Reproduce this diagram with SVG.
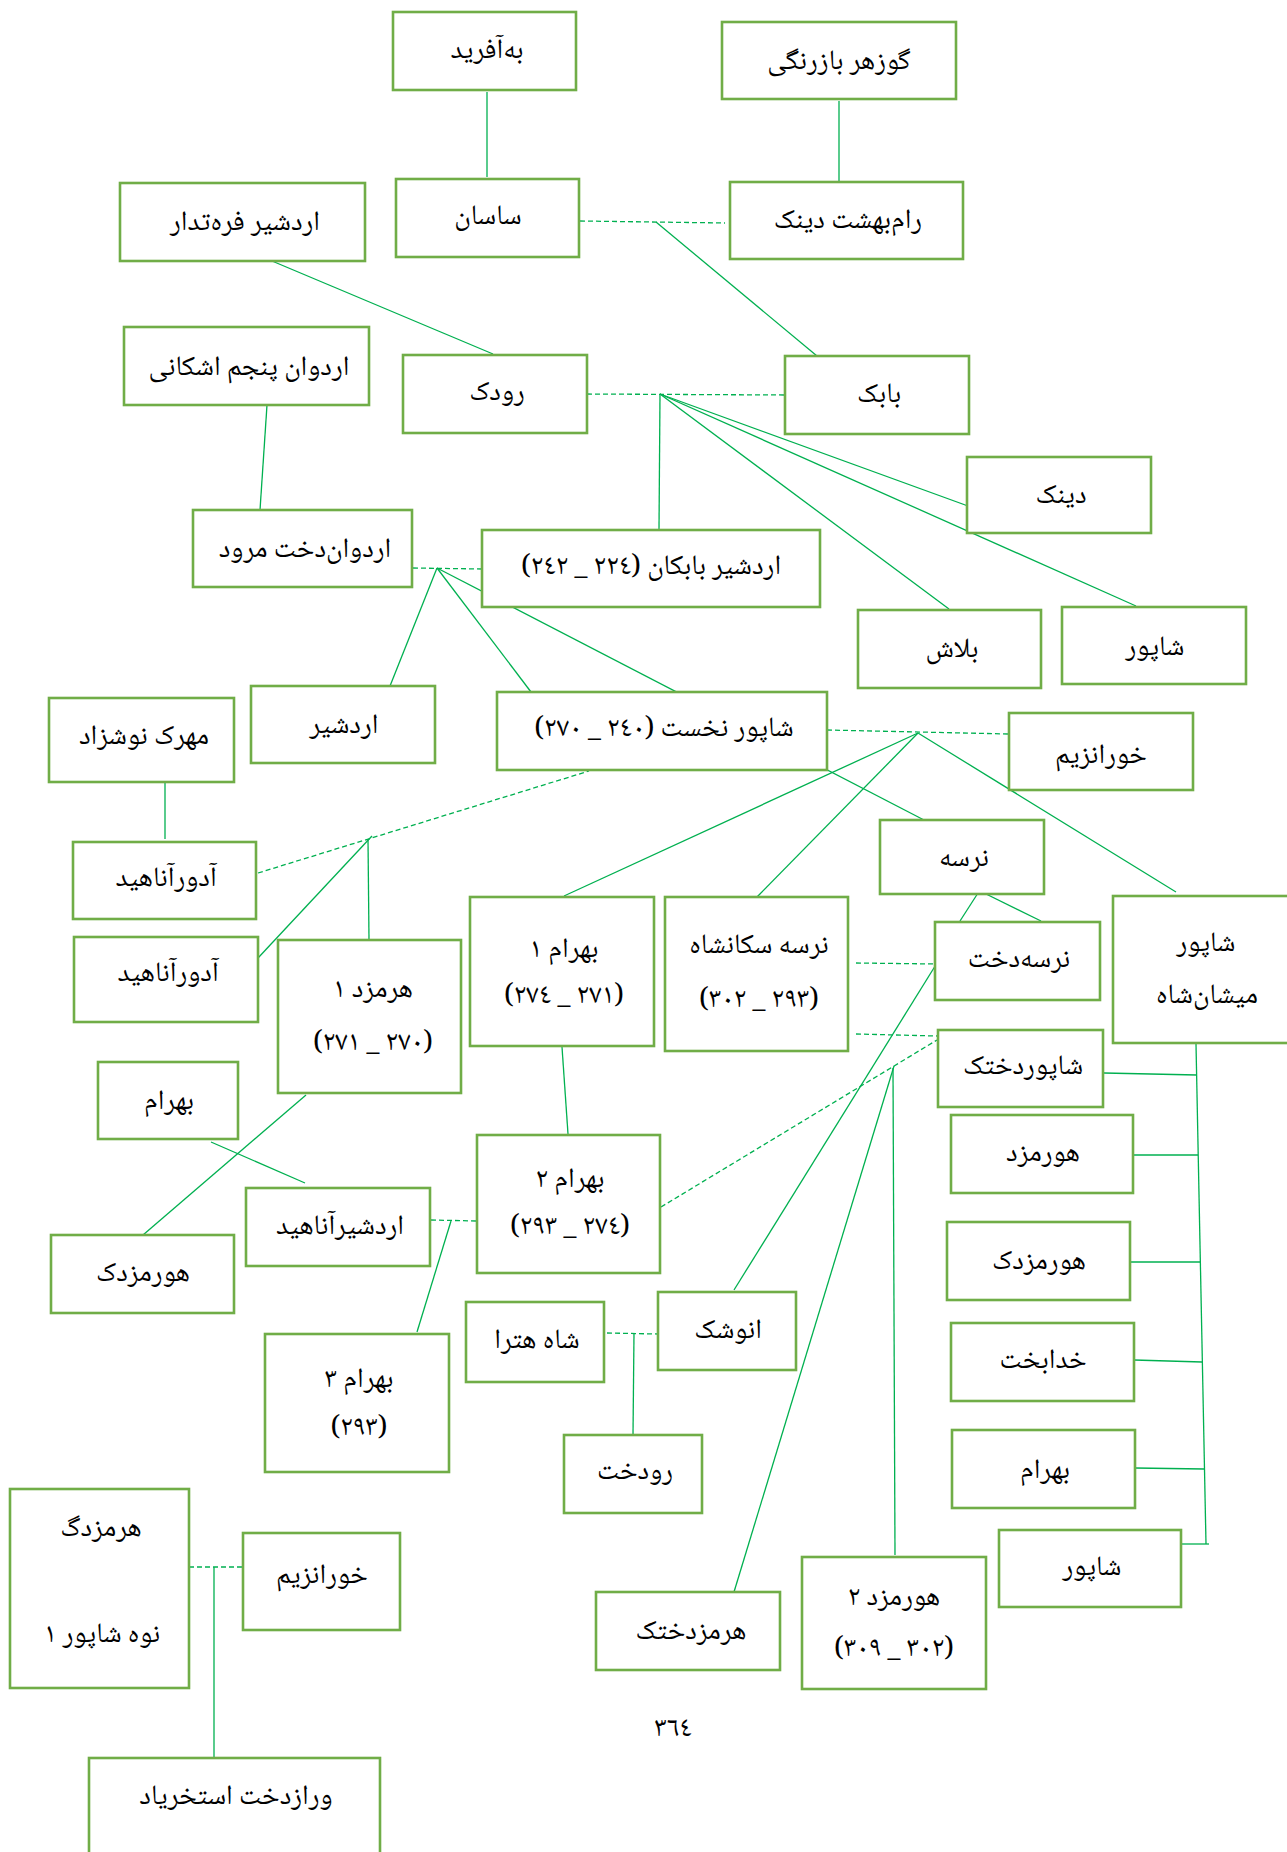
<svg xmlns="http://www.w3.org/2000/svg" width="1287" height="1852" viewBox="0 0 1287 1852">
<style>
.b{fill:#fff;stroke:#70AD47;stroke-width:2.6}
.t{font-family:"Noto Naskh Arabic","Noto Serif Arabic","DejaVu Sans",sans-serif;font-size:28px;fill:#000;text-anchor:middle;direction:rtl;unicode-bidi:embed}
.c line{stroke:#00B050;stroke-width:1.3;fill:none}
.c .d{stroke-dasharray:5 3}
</style>
<rect width="1287" height="1852" fill="#fff"/>
<g class="c" id="connectors">
<line x1="487" y1="92" x2="487" y2="177"/>
<line x1="839" y1="101" x2="839" y2="183"/>
<line x1="272" y1="261" x2="493" y2="354"/>
<line x1="656" y1="222" x2="817" y2="356"/>
<line x1="267" y1="405" x2="260" y2="510"/>
<line x1="660" y1="394" x2="659" y2="529"/>
<line x1="660" y1="394" x2="968" y2="506"/>
<line x1="660" y1="394" x2="1136" y2="606"/>
<line x1="660" y1="394" x2="949" y2="609"/>
<line x1="437" y1="568" x2="390" y2="686"/>
<line x1="437" y1="568" x2="531" y2="692"/>
<line x1="437" y1="568" x2="924" y2="820"/>
<line x1="918" y1="733" x2="564" y2="896"/>
<line x1="918" y1="733" x2="757" y2="897"/>
<line x1="918" y1="733" x2="1176" y2="892"/>
<line x1="978" y1="893" x2="960" y2="921"/>
<line x1="980" y1="891" x2="1041" y2="921"/>
<line x1="368" y1="839" x2="369" y2="940"/>
<line x1="372" y1="836" x2="258" y2="958"/>
<line x1="165" y1="782" x2="165" y2="839"/>
<line x1="306" y1="1095" x2="143" y2="1235"/>
<line x1="211" y1="1142" x2="305" y2="1183"/>
<line x1="562" y1="1047" x2="568" y2="1134"/>
<line x1="451" y1="1221" x2="417" y2="1332"/>
<line x1="937" y1="963" x2="734" y2="1290"/>
<line x1="894" y1="1066" x2="734" y2="1592"/>
<line x1="893" y1="1068" x2="895" y2="1555"/>
<line x1="634" y1="1333" x2="633" y2="1435"/>
<line x1="214" y1="1567" x2="214" y2="1768"/>
<line x1="1196" y1="1044" x2="1206" y2="1544"/>
<line x1="1104" y1="1073" x2="1197" y2="1075"/>
<line x1="1133" y1="1155" x2="1198" y2="1155"/>
<line x1="1130" y1="1262" x2="1200" y2="1262"/>
<line x1="1134" y1="1360" x2="1202" y2="1362"/>
<line x1="1135" y1="1468" x2="1204" y2="1469"/>
<line x1="1182" y1="1544" x2="1209" y2="1544"/>
<line class="d" x1="580" y1="221" x2="725" y2="223"/>
<line class="d" x1="587" y1="394" x2="785" y2="395"/>
<line class="d" x1="413" y1="568" x2="482" y2="569"/>
<line class="d" x1="827" y1="730" x2="1009" y2="734"/>
<line class="d" x1="258" y1="873" x2="589" y2="771"/>
<line class="d" x1="856" y1="963" x2="935" y2="964"/>
<line class="d" x1="856" y1="1034" x2="937" y2="1036"/>
<line class="d" x1="661" y1="1207" x2="937" y2="1040"/>
<line class="d" x1="431" y1="1220" x2="477" y2="1221"/>
<line class="d" x1="607" y1="1333" x2="658" y2="1334"/>
<line class="d" x1="189" y1="1567" x2="243" y2="1567"/>
</g>
<g id="n1"><rect class="b" x="393" y="12" width="183" height="78"/><text class="t" x="487" y="58">به‌آفرید</text></g>
<g id="n2"><rect class="b" x="722" y="22" width="234" height="77"/><text class="t" x="839" y="69">گوزهر بازرنگی</text></g>
<g id="n3"><rect class="b" x="396" y="179" width="183" height="78"/><text class="t" x="488" y="224">ساسان</text></g>
<g id="n4"><rect class="b" x="730" y="182" width="233" height="77"/><text class="t" x="848" y="228">رام‌بهشت دینک</text></g>
<g id="n5"><rect class="b" x="120" y="183" width="245" height="78"/><text class="t" x="245" y="230">اردشیر فره‌تدار</text></g>
<g id="n6"><rect class="b" x="124" y="327" width="245" height="78"/><text class="t" x="249" y="375">اردوان پنجم اشکانی</text></g>
<g id="n7"><rect class="b" x="403" y="355" width="184" height="78"/><text class="t" x="497" y="400">رودک</text></g>
<g id="n8"><rect class="b" x="785" y="356" width="184" height="78"/><text class="t" x="879" y="402">بابک</text></g>
<g id="n9"><rect class="b" x="967" y="457" width="184" height="76"/><text class="t" x="1061" y="503">دینک</text></g>
<g id="n10"><rect class="b" x="193" y="510" width="219" height="77"/><text class="t" x="305" y="557">اردوان‌دخت مرود</text></g>
<g id="n11"><rect class="b" x="482" y="530" width="338" height="77"/><text class="t" x="651" y="574">اردشیر بابکان (٢٢٤ _ ٢٤٢)</text></g>
<g id="n12"><rect class="b" x="858" y="610" width="183" height="78"/><text class="t" x="952" y="657">بلاش</text></g>
<g id="n13"><rect class="b" x="1062" y="607" width="184" height="77"/><text class="t" x="1155" y="655">شاپور</text></g>
<g id="n14"><rect class="b" x="251" y="686" width="184" height="77"/><text class="t" x="344" y="733">اردشیر</text></g>
<g id="n15"><rect class="b" x="497" y="692" width="330" height="78"/><text class="t" x="664" y="736">شاپور نخست (٢٤٠ _ ٢٧٠)</text></g>
<g id="n16"><rect class="b" x="49" y="698" width="185" height="84"/><text class="t" x="144" y="744">مهرک نوشزاد</text></g>
<g id="n17"><rect class="b" x="1009" y="713" width="184" height="77"/><text class="t" x="1101" y="763">خورانزیم</text></g>
<g id="n18"><rect class="b" x="880" y="820" width="164" height="74"/><text class="t" x="964" y="866">نرسه</text></g>
<g id="n19"><rect class="b" x="73" y="842" width="183" height="77"/><text class="t" x="166" y="886">آدورآناهید</text></g>
<g id="n20"><rect class="b" x="470" y="897" width="184" height="149"/><text class="t" x="564" y="957">بهرام ١</text><text class="t" x="564" y="1003">(٢٧١ _ ٢٧٤)</text></g>
<g id="n21"><rect class="b" x="665" y="897" width="183" height="154"/><text class="t" x="759" y="953">نرسه سکانشاه</text><text class="t" x="759" y="1007">(٢٩٣ _ ٣٠٢)</text></g>
<g id="n22"><rect class="b" x="1113" y="896" width="185" height="147"/><text class="t" x="1206" y="951">شاپور</text><text class="t" x="1207" y="1003">میشان‌شاه</text></g>
<g id="n23"><rect class="b" x="935" y="922" width="165" height="78"/><text class="t" x="1019" y="967">نرسه‌دخت</text></g>
<g id="n24"><rect class="b" x="74" y="937" width="184" height="85"/><text class="t" x="168" y="981">آدورآناهید</text></g>
<g id="n25"><rect class="b" x="278" y="940" width="183" height="153"/><text class="t" x="373" y="997">هرمزد ١</text><text class="t" x="373" y="1050">(٢٧٠ _ ٢٧١)</text></g>
<g id="n26"><rect class="b" x="938" y="1030" width="165" height="77"/><text class="t" x="1023" y="1074">شاپوردختک</text></g>
<g id="n27"><rect class="b" x="98" y="1062" width="140" height="77"/><text class="t" x="169" y="1109">بهرام</text></g>
<g id="n28"><rect class="b" x="951" y="1115" width="182" height="78"/><text class="t" x="1043" y="1161">هورمزد</text></g>
<g id="n29"><rect class="b" x="477" y="1135" width="183" height="138"/><text class="t" x="570" y="1187">بهرام ٢</text><text class="t" x="570" y="1234">(٢٧٤ _ ٢٩٣)</text></g>
<g id="n30"><rect class="b" x="246" y="1188" width="184" height="78"/><text class="t" x="340" y="1234">اردشیرآناهید</text></g>
<g id="n31"><rect class="b" x="947" y="1222" width="183" height="78"/><text class="t" x="1039" y="1269">هورمزدک</text></g>
<g id="n32"><rect class="b" x="51" y="1235" width="183" height="78"/><text class="t" x="143" y="1281">هورمزدک</text></g>
<g id="n33"><rect class="b" x="658" y="1292" width="138" height="78"/><text class="t" x="728" y="1338">انوشک</text></g>
<g id="n34"><rect class="b" x="466" y="1302" width="138" height="80"/><text class="t" x="537" y="1348">شاه هترا</text></g>
<g id="n35"><rect class="b" x="951" y="1323" width="183" height="78"/><text class="t" x="1043" y="1368">خدابخت</text></g>
<g id="n36"><rect class="b" x="265" y="1334" width="184" height="138"/><text class="t" x="359" y="1387">بهرام ٣</text><text class="t" x="359" y="1435">(٢٩٣)</text></g>
<g id="n37"><rect class="b" x="952" y="1430" width="183" height="78"/><text class="t" x="1045" y="1478">بهرام</text></g>
<g id="n38"><rect class="b" x="564" y="1435" width="138" height="78"/><text class="t" x="635" y="1479">رودخت</text></g>
<g id="n39"><rect class="b" x="999" y="1530" width="182" height="77"/><text class="t" x="1092" y="1575">شاپور</text></g>
<g id="n40"><rect class="b" x="802" y="1557" width="184" height="132"/><text class="t" x="894" y="1605">هورمزد ٢</text><text class="t" x="894" y="1656">(٣٠٢ _ ٣٠٩)</text></g>
<g id="n41"><rect class="b" x="596" y="1592" width="184" height="78"/><text class="t" x="691" y="1639">هرمزدختک</text></g>
<g id="n42"><rect class="b" x="10" y="1489" width="179" height="199"/><text class="t" x="101" y="1536">هرمزدگ</text><text class="t" x="102" y="1642">نوه شاپور ١</text></g>
<g id="n43"><rect class="b" x="243" y="1533" width="157" height="97"/><text class="t" x="322" y="1583">خورانزیم</text></g>
<g id="n44"><rect class="b" x="89" y="1758" width="291" height="110"/><text class="t" x="236" y="1804">ورازدخت استخریاد</text></g>
<text class="t" x="673" y="1736">٣٦٤</text>
</svg>
